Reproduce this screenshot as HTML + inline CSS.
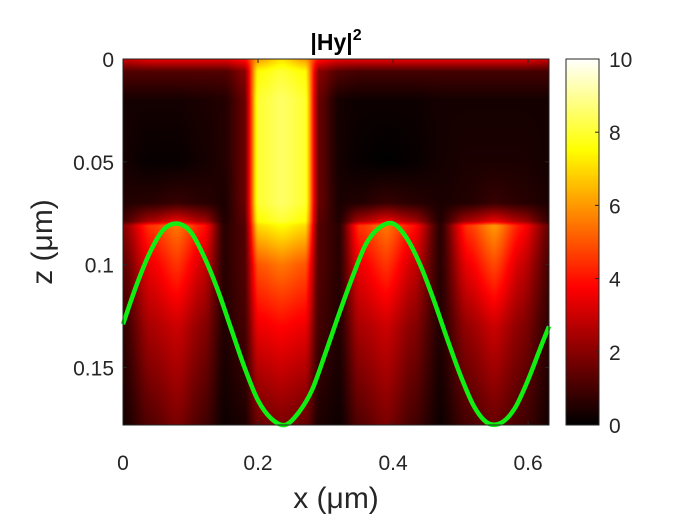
<!DOCTYPE html>
<html><head><meta charset="utf-8">
<style>
html,body{margin:0;padding:0;background:#fff;}
#wrap{position:relative;width:700px;height:525px;overflow:hidden;font-family:"Liberation Sans",Arial,sans-serif;}
canvas{position:absolute;}
svg{position:absolute;left:0;top:0;}
</style></head>
<body>
<div id="wrap">
<canvas id="heat" width="426" height="366" style="left:123px;top:59px"></canvas>
<canvas id="cbar" width="33" height="366" style="left:566px;top:59px"></canvas>
<svg id="svg" width="700" height="525"></svg>
</div>
<script>
const xGrid=[0,0.04,0.08,0.12,0.15,0.18,0.20,0.235,0.27,0.29,0.32,0.35,0.39,0.43,0.47,0.51,0.55,0.59,0.631];
const zGrid=[0,0.006,0.02,0.05,0.07,0.079,0.081,0.10,0.13,0.178];
const field=[
[3,3.5,3.5,3.5,3.5,4,6,7,6,4,3.5,3.5,3.5,3.5,3.5,3.5,3.5,3.5,3],
[1.2,1.2,1.2,1.2,1.2,2,7.5,8,7.5,2,1.2,1,1,1,1,1,1,1,1],
[0.3,0.3,0.3,0.4,0.5,1.5,8,8.5,8,1.5,0.3,0.2,0.2,0.2,0.3,0.3,0.3,0.3,0.3],
[0.3,0.1,0.1,0.3,0.5,1.5,8,8.5,8,1.5,0.3,0.1,0,0.1,0.3,0.4,0.4,0.4,0.3],
[0.5,0.6,0.8,0.6,0.4,1.5,8,8.5,8,1.5,0.4,0.5,0.8,0.6,0.4,0.5,0.8,0.6,0.4],
[1,2.5,3.5,2.5,0.5,1.3,7.5,8,7.5,1.3,0.5,2.5,3.5,2.5,0.5,2.5,3.5,2.5,0.8],
[2,4.5,5.5,4,0.6,1.2,7,7.5,7,1.2,0.6,4.5,5.5,4,0.6,4.5,6,4,1.5],
[1.3,3.5,4.5,3,0.6,1.2,5,5.5,5,1.2,0.6,3.5,4.5,3,0.6,3.5,4.8,3,1.1],
[0.7,2.5,3,2,0.5,1,3.5,3.8,3.5,1,0.5,2.5,3,2,0.5,2.2,3,2,0.7],
[0.3,1.2,1.8,1,0.2,0.4,1.5,1.8,1.5,0.4,0.2,1.2,1.8,1,0.2,1,1.5,1,0.3]];
const curveX=[0,0.02,0.04,0.06,0.08,0.10,0.12,0.14,0.16,0.18,0.20,0.22,0.24,0.26,0.28,0.30,0.32,0.34,0.36,0.38,0.40,0.42,0.44,0.46,0.48,0.50,0.52,0.54,0.56,0.58,0.60,0.62,0.631];
const curveZ=[0.129,0.110,0.094,0.083,0.080,0.084,0.096,0.112,0.131,0.150,0.166,0.175,0.178,0.172,0.161,0.143,0.124,0.106,0.090,0.082,0.080,0.087,0.100,0.117,0.136,0.154,0.169,0.177,0.177,0.170,0.156,0.139,0.130];
const xTicks=[0,0.2,0.4,0.6];
const zTicks=[0,0.05,0.1,0.15];
const zTickLabels=["0","0.05","0.1","0.15"];
const cTicks=[0,2,4,6,8,10];

const L=123,T=59,W=426,H=366,XMAX=0.631,ZMAX=0.178,CMAX=10;
const sx=x=>L+x/XMAX*W, sz=z=>T+z/ZMAX*H;
function hot(v){let t=Math.max(0,Math.min(1,v/CMAX));
 let r=Math.min(1,t/0.375),g=Math.max(0,Math.min(1,(t-0.375)/0.375)),b=Math.max(0,Math.min(1,(t-0.75)/0.25));
 return [r*255,g*255,b*255];}
function idx(arr,v){for(let i=0;i<arr.length-1;i++){if(v<=arr[i+1])return i;}return arr.length-2;}
const hc=document.getElementById('heat').getContext('2d');
const img=hc.createImageData(W,H);
for(let py=0;py<H;py++){const z=(py+0.5)/H*ZMAX;const j=idx(zGrid,z);const fz=Math.max(0,Math.min(1,(z-zGrid[j])/(zGrid[j+1]-zGrid[j])));
 for(let px=0;px<W;px++){const x=(px+0.5)/W*XMAX;const i=idx(xGrid,x);let fx=(x-xGrid[i])/(xGrid[i+1]-xGrid[i]);fx=Math.max(0,Math.min(1,fx));fx=0.5*fx+0.5*fx*fx*(3-2*fx);
  const a=field[j][i]*(1-fx)+field[j][i+1]*fx,b=field[j+1][i]*(1-fx)+field[j+1][i+1]*fx;
  const c=hot(a*(1-fz)+b*fz);const k=(py*W+px)*4;img.data[k]=c[0];img.data[k+1]=c[1];img.data[k+2]=c[2];img.data[k+3]=255;}}
hc.putImageData(img,0,0);
const cc=document.getElementById('cbar').getContext('2d');
for(let py=0;py<366;py++){const c=hot((1-(py+0.5)/366)*CMAX);cc.fillStyle=`rgb(${c[0]|0},${c[1]|0},${c[2]|0})`;cc.fillRect(0,py,33,1);}

const svg=document.getElementById('svg');const NS='http://www.w3.org/2000/svg';
function mk(t,a,txt){const e=document.createElementNS(NS,t);for(const k in a)e.setAttribute(k,a[k]);if(txt!==undefined)e.textContent=txt;svg.appendChild(e);return e;}
const P=curveX.map((x,i)=>[sx(x),sz(curveZ[i])]);
let d='M'+P[0][0].toFixed(1)+','+P[0][1].toFixed(1);
for(let i=0;i<P.length-1;i++){const p0=P[Math.max(0,i-1)],p1=P[i],p2=P[i+1],p3=P[Math.min(P.length-1,i+2)];
 const c1=[p1[0]+(p2[0]-p0[0])/6,p1[1]+(p2[1]-p0[1])/6],c2=[p2[0]-(p3[0]-p1[0])/6,p2[1]-(p3[1]-p1[1])/6];
 d+='C'+c1[0].toFixed(1)+','+c1[1].toFixed(1)+' '+c2[0].toFixed(1)+','+c2[1].toFixed(1)+' '+p2[0].toFixed(1)+','+p2[1].toFixed(1);}
const cv=mk('path',{d:d,fill:'none',stroke:'#11ee11','stroke-width':4.5,'stroke-linejoin':'round'});


const fr=mk('rect',{x:L,y:T,width:W,height:H,fill:'none',stroke:'#262626','stroke-width':1});


const cf=mk('rect',{x:566,y:T,width:33,height:H,fill:'none',stroke:'#262626','stroke-width':1});


xTicks.forEach(v=>{const x=sx(v);mk('line',{x1:x,y1:T+H,x2:x,y2:T+H-4,stroke:'#262626'});mk('line',{x1:x,y1:T,x2:x,y2:T+4,stroke:'#262626'});
 const t=mk('text',{x:x,y:470,'text-anchor':'middle','font-size':21,fill:'#262626'},String(v));
 
 });
zTicks.forEach((v,i)=>{const y=sz(v);mk('line',{x1:L,y1:y,x2:L+4,y2:y,stroke:'#262626'});mk('line',{x1:L+W,y1:y,x2:L+W-4,y2:y,stroke:'#262626'});
 const t=mk('text',{x:114,y:y+8,'text-anchor':'end','font-size':21,fill:'#262626'},zTickLabels[i]);
 
 });
cTicks.forEach(v=>{const y=T+H-v/CMAX*H;mk('line',{x1:599,y1:y,x2:595,y2:y,stroke:'#262626'});
 const t=mk('text',{x:609,y:y+8,'font-size':21,fill:'#262626'},String(v));
 
 });
const xl=mk('text',{x:336,y:508,'text-anchor':'middle','font-size':30,fill:'#262626'},'x (μm)');


const zl=mk('text',{x:0,y:0,'text-anchor':'middle','font-size':30,fill:'#262626',transform:'translate(52,242) rotate(-90)'},'z  (μm)');


const tt=mk('text',{x:336,y:50,'text-anchor':'middle','font-size':23,'font-weight':'bold',fill:'#000'});
tt.innerHTML='|Hy|<tspan dy="-10" font-size="16">2</tspan>';


</script>
</body></html>
